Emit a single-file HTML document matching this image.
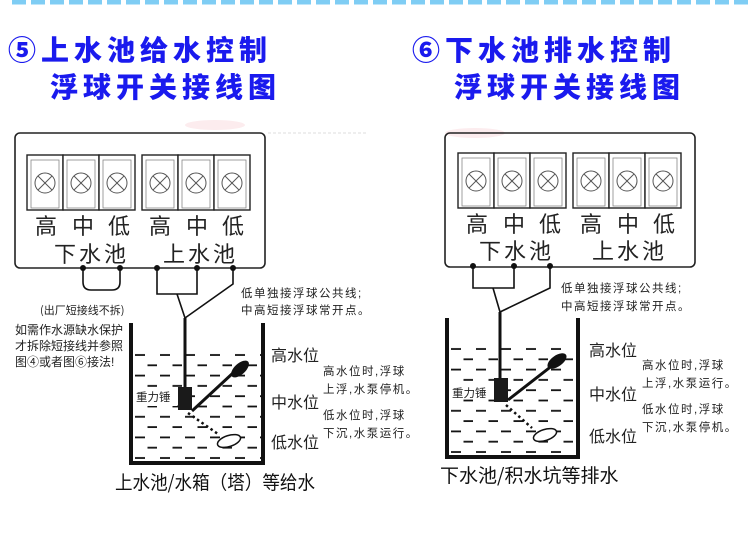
<!DOCTYPE html>
<html><head><meta charset="utf-8"><style>
html,body{margin:0;padding:0;background:#fff;}
svg{display:block;}
text{font-family:"Liberation Sans","Noto Sans CJK SC",sans-serif;}
.t{font-family:"Noto Sans CJK SC",sans-serif;}
</style></head><body>
<svg width="750" height="554" viewBox="0 0 750 554" xmlns="http://www.w3.org/2000/svg">
<defs>
<pattern id="dash" x="132" y="352" width="25" height="20.6" patternUnits="userSpaceOnUse">
<line x1="3" y1="3" x2="13" y2="3" stroke="#111" stroke-width="1.8"/>
<line x1="15.5" y1="13.3" x2="25" y2="13.3" stroke="#111" stroke-width="1.8"/>
</pattern>
<pattern id="dash2" x="448" y="346" width="25" height="20.6" patternUnits="userSpaceOnUse">
<line x1="3" y1="3" x2="13" y2="3" stroke="#111" stroke-width="1.8"/>
<line x1="15.5" y1="13.3" x2="25" y2="13.3" stroke="#111" stroke-width="1.8"/>
</pattern>
<g id="term">
<rect x="0" y="0" width="36" height="55" fill="#fff" stroke="#222" stroke-width="1.4"/>
<rect x="4" y="5" width="28" height="48" fill="none" stroke="#888" stroke-width="0.8"/>
<circle cx="18" cy="28" r="10" fill="none" stroke="#555" stroke-width="1"/>
<line x1="11" y1="21" x2="25" y2="35" stroke="#555" stroke-width="1"/>
<line x1="25" y1="21" x2="11" y2="35" stroke="#555" stroke-width="1"/>
</g>
</defs>
<line x1="12" y1="2" x2="750" y2="2" stroke="#7fcdf4" stroke-width="5" stroke-dasharray="14 5"/>
<g class="t" fill="#1a1aee" font-weight="900" font-size="28" letter-spacing="5">
<text x="8" y="60">⑤上水池给水控制</text>
<text x="50" y="97">浮球开关接线图</text>
<text x="412" y="60">⑥下水池排水控制</text>
<text x="454" y="97">浮球开关接线图</text>
</g>
<ellipse cx="215" cy="125" rx="30" ry="5" fill="#fcecee"/>
<ellipse cx="475" cy="133" rx="30" ry="5" fill="#fcecee"/>
<line x1="268" y1="133" x2="368" y2="133" stroke="#ddd" stroke-width="1" stroke-dasharray="3 2"/>

<rect x="15" y="133" width="250" height="135" rx="5" fill="none" stroke="#222" stroke-width="1.6"/>
<use href="#term" x="27" y="155"/><use href="#term" x="63" y="155"/><use href="#term" x="99" y="155"/>
<use href="#term" x="142" y="155"/><use href="#term" x="178" y="155"/><use href="#term" x="214" y="155"/>
<g class="t" font-size="22" fill="#222">
<text x="35" y="234">高</text><text x="72" y="234">中</text><text x="108" y="234">低</text>
<text x="149" y="234">高</text><text x="186" y="234">中</text><text x="222" y="234">低</text>
<text x="54" y="262" letter-spacing="3">下水池</text><text x="163" y="262" letter-spacing="3">上水池</text>
</g>
<g fill="#111"><circle cx="83" cy="268" r="3"/><circle cx="120" cy="268" r="3"/><circle cx="157" cy="268" r="3"/><circle cx="197" cy="268" r="3"/><circle cx="233" cy="268" r="3"/></g>
<g fill="none" stroke="#111" stroke-width="1.6">
<path d="M83 268 V282 Q83 290 91 290 H112 Q120 290 120 282 V268"/>
<path d="M157 268 V294 H197 V268"/>
<path d="M177 294 L185 318 L233 284 V268"/>
</g>
<line x1="185" y1="318" x2="185" y2="388" stroke="#111" stroke-width="3"/>
<text class="t" x="40" y="314" font-size="11" fill="#222">(出厂短接线不拆)</text>
<g class="t" font-size="12" fill="#222">
<text x="15" y="334">如需作水源缺水保护</text>
<text x="15" y="350">才拆除短接线并参照</text>
<text x="15" y="366">图④或者图⑥接法!</text>
</g>
<g class="t" font-size="11.5" fill="#222" letter-spacing="1.5">
<text x="241" y="297">低单独接浮球公共线;</text>
<text x="241" y="314">中高短接浮球常开点。</text>
</g>
<rect x="132" y="350" width="129" height="110" fill="url(#dash)"/>
<path d="M131 323 V463 H263 V323" fill="none" stroke="#111" stroke-width="4"/>
<rect x="134" y="388" width="43" height="18" fill="#fff"/>
<text class="t" x="136" y="401" font-size="11.5" fill="#222">重力锤</text>
<rect x="178" y="387" width="14" height="23" fill="#1a1a1a"/>
<line x1="192" y1="411" x2="233" y2="373" stroke="#111" stroke-width="3"/>
<ellipse cx="240" cy="369" rx="11" ry="5.5" transform="rotate(-42 240 369)" fill="#111"/>
<line x1="188" y1="413" x2="218" y2="434" stroke="#111" stroke-width="2.5" stroke-dasharray="2.5 3"/>
<ellipse cx="229" cy="441" rx="12" ry="5.5" transform="rotate(-18 229 441)" fill="#fff" stroke="#111" stroke-width="1.5"/>
<g class="t" font-size="16" fill="#222">
<text x="271" y="361">高水位</text><text x="271" y="408">中水位</text><text x="271" y="448">低水位</text>
</g>
<g class="t" font-size="11.5" fill="#222" letter-spacing="1.5">
<text x="323" y="375">高水位时,浮球</text><text x="323" y="393">上浮,水泵停机。</text>
<text x="323" y="419">低水位时,浮球</text><text x="323" y="437">下沉,水泵运行。</text>
</g>
<text class="t" x="115" y="489" font-size="19" fill="#111" textLength="200" lengthAdjust="spacingAndGlyphs">上水池/水箱（塔）等给水</text>

<rect x="445" y="133" width="250" height="134" rx="5" fill="none" stroke="#222" stroke-width="1.6"/>
<use href="#term" x="458" y="153"/><use href="#term" x="494" y="153"/><use href="#term" x="530" y="153"/>
<use href="#term" x="573" y="153"/><use href="#term" x="609" y="153"/><use href="#term" x="645" y="153"/>
<g class="t" font-size="22" fill="#222">
<text x="466" y="232">高</text><text x="503" y="232">中</text><text x="539" y="232">低</text>
<text x="580" y="232">高</text><text x="617" y="232">中</text><text x="653" y="232">低</text>
<text x="479" y="259" letter-spacing="3">下水池</text><text x="592" y="259" letter-spacing="3">上水池</text>
</g>
<g fill="#111"><circle cx="473" cy="266" r="3"/><circle cx="514" cy="266" r="3"/><circle cx="550" cy="266" r="3"/></g>
<g fill="none" stroke="#111" stroke-width="1.6">
<path d="M473 266 V288 H514 V266"/>
<path d="M493 288 L500 312 L550 288 V266"/>
</g>
<line x1="500" y1="312" x2="500" y2="380" stroke="#111" stroke-width="3"/>
<g class="t" font-size="11.5" fill="#222" letter-spacing="1.5">
<text x="561" y="292">低单独接浮球公共线;</text>
<text x="561" y="310">中高短接浮球常开点。</text>
</g>
<rect x="448" y="344" width="128" height="110" fill="url(#dash2)"/>
<path d="M447 318 V457 H578 V318" fill="none" stroke="#111" stroke-width="4"/>
<rect x="450" y="381" width="44" height="18" fill="#fff"/>
<text class="t" x="452" y="397" font-size="11.5" fill="#222">重力锤</text>
<rect x="494" y="378" width="14" height="24" fill="#1a1a1a"/>
<line x1="508" y1="400" x2="553" y2="365" stroke="#111" stroke-width="3"/>
<ellipse cx="557" cy="361" rx="11" ry="5.5" transform="rotate(-35 557 361)" fill="#111"/>
<line x1="506" y1="405" x2="532" y2="428" stroke="#111" stroke-width="2.5" stroke-dasharray="2.5 3"/>
<ellipse cx="545" cy="435" rx="12" ry="5.5" transform="rotate(-18 545 435)" fill="#fff" stroke="#111" stroke-width="1.5"/>
<g class="t" font-size="16" fill="#222">
<text x="589" y="356">高水位</text><text x="589" y="400">中水位</text><text x="589" y="442">低水位</text>
</g>
<g class="t" font-size="11.5" fill="#222" letter-spacing="1.5">
<text x="642" y="369">高水位时,浮球</text><text x="642" y="387">上浮,水泵运行。</text>
<text x="642" y="413">低水位时,浮球</text><text x="642" y="431">下沉,水泵停机。</text>
</g>
<text class="t" x="440" y="482" font-size="19" fill="#111">下水池/积水坑等排水</text>
</svg>
</body></html>
